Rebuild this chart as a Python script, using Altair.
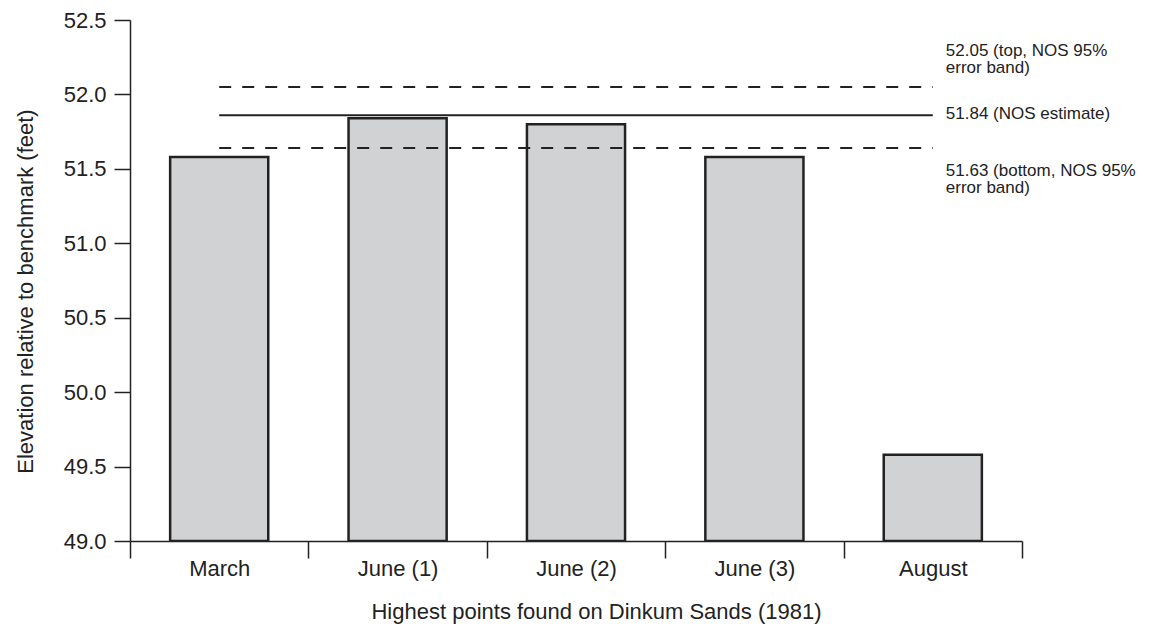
import altair as alt
import pandas as pd

# ---- data ----
categories = ["March", "June (1)", "June (2)", "June (3)", "August"]
elevations = [51.58, 51.84, 51.80, 51.58, 49.58]

ref_values = [52.05, 51.86, 51.64]
ref_labels = [
    "52.05 (top, NOS 95%\nerror band)",
    "51.84 (NOS estimate)",
    "51.63 (bottom, NOS 95%\nerror band)",
]
ref_kind = ["top", "mid", "bottom"]

y_ticks = [49.0, 49.5, 50.0, 50.5, 51.0, 51.5, 52.0, 52.5]

FONT = "Liberation Sans"
INK = "#222222"

bars_df = pd.DataFrame({"month": categories, "elev": elevations})
ref_df = pd.DataFrame({
    "value": ref_values,
    "label": ref_labels,
    "kind": ref_kind,
    "start": [categories[0]] * 3,
    "end": [categories[-1]] * 3,
})

x_scale = alt.Scale(domain=categories, paddingInner=0, paddingOuter=0)
y_scale = alt.Scale(domain=[49.0, 52.5], nice=False, zero=False)

bars = alt.Chart(bars_df).mark_bar(
    fill="#d1d2d4", stroke=INK, strokeWidth=2.5, clip=True,
    width=alt.RelativeBandSize(0.55),
).encode(
    x=alt.X(
        "month:N", scale=x_scale, sort=categories,
        axis=alt.Axis(
            title="Highest points found on Dinkum Sands (1981)",
            labelAngle=0, tickBand="extent", tickSize=17, labelPadding=0,
            titleX=466, titleY=77, titleBaseline="alphabetic",
        ),
    ),
    y=alt.Y(
        "elev:Q", scale=y_scale,
        axis=alt.Axis(
            title="Elevation relative to benchmark (feet)",
            values=y_ticks, format=".1f", tickSize=16, labelPadding=8,
            titleX=-98, titleY=271, titleBaseline="alphabetic",
            titleAngle=-90, titleAlign="center",
        ),
    ),
    y2=alt.datum(49.0),
)

solid = alt.Chart(ref_df).transform_filter(alt.datum.kind == "mid").mark_rule(
    color=INK, strokeWidth=2
).encode(
    x=alt.X("start:N", scale=x_scale, sort=categories),
    x2="end:N",
    y=alt.Y("value:Q", scale=y_scale),
)

dashed = alt.Chart(ref_df).transform_filter(alt.datum.kind != "mid").mark_rule(
    color=INK, strokeWidth=2, strokeDash=[12, 11]
).encode(
    x=alt.X("start:N", scale=x_scale, sort=categories),
    x2="end:N",
    y=alt.Y("value:Q", scale=y_scale),
)

def ann(kind, baseline, dy):
    return alt.Chart(ref_df).transform_filter(alt.datum.kind == kind).mark_text(
        align="left", baseline=baseline, dx=13, dy=dy, font=FONT,
        fontSize=17, lineHeight=17, lineBreak="\n", color=INK,
    ).encode(
        x=alt.X("end:N", scale=x_scale, sort=categories),
        y=alt.Y("value:Q", scale=y_scale),
        text="label:N",
    )

chart = alt.layer(
    bars, solid, dashed,
    ann("top", "bottom", -27),
    ann("mid", "middle", -1),
    ann("bottom", "top", 15),
).properties(
    width=892, height=521,
    background="white",
    autosize=alt.AutoSizeParams(type="none"),
    padding={"left": 122, "top": 12, "right": 126, "bottom": 84},
).configure_view(
    stroke=None
).configure_axis(
    grid=False,
    domainColor=INK, domainWidth=1.5,
    tickColor=INK, tickWidth=1.5,
    labelFont=FONT, labelFontSize=22, labelColor=INK,
    titleFont=FONT, titleFontSize=22, titleColor=INK, titleFontWeight="normal",
)

chart.save("out.html", embed_options={"renderer": "svg", "actions": False})
